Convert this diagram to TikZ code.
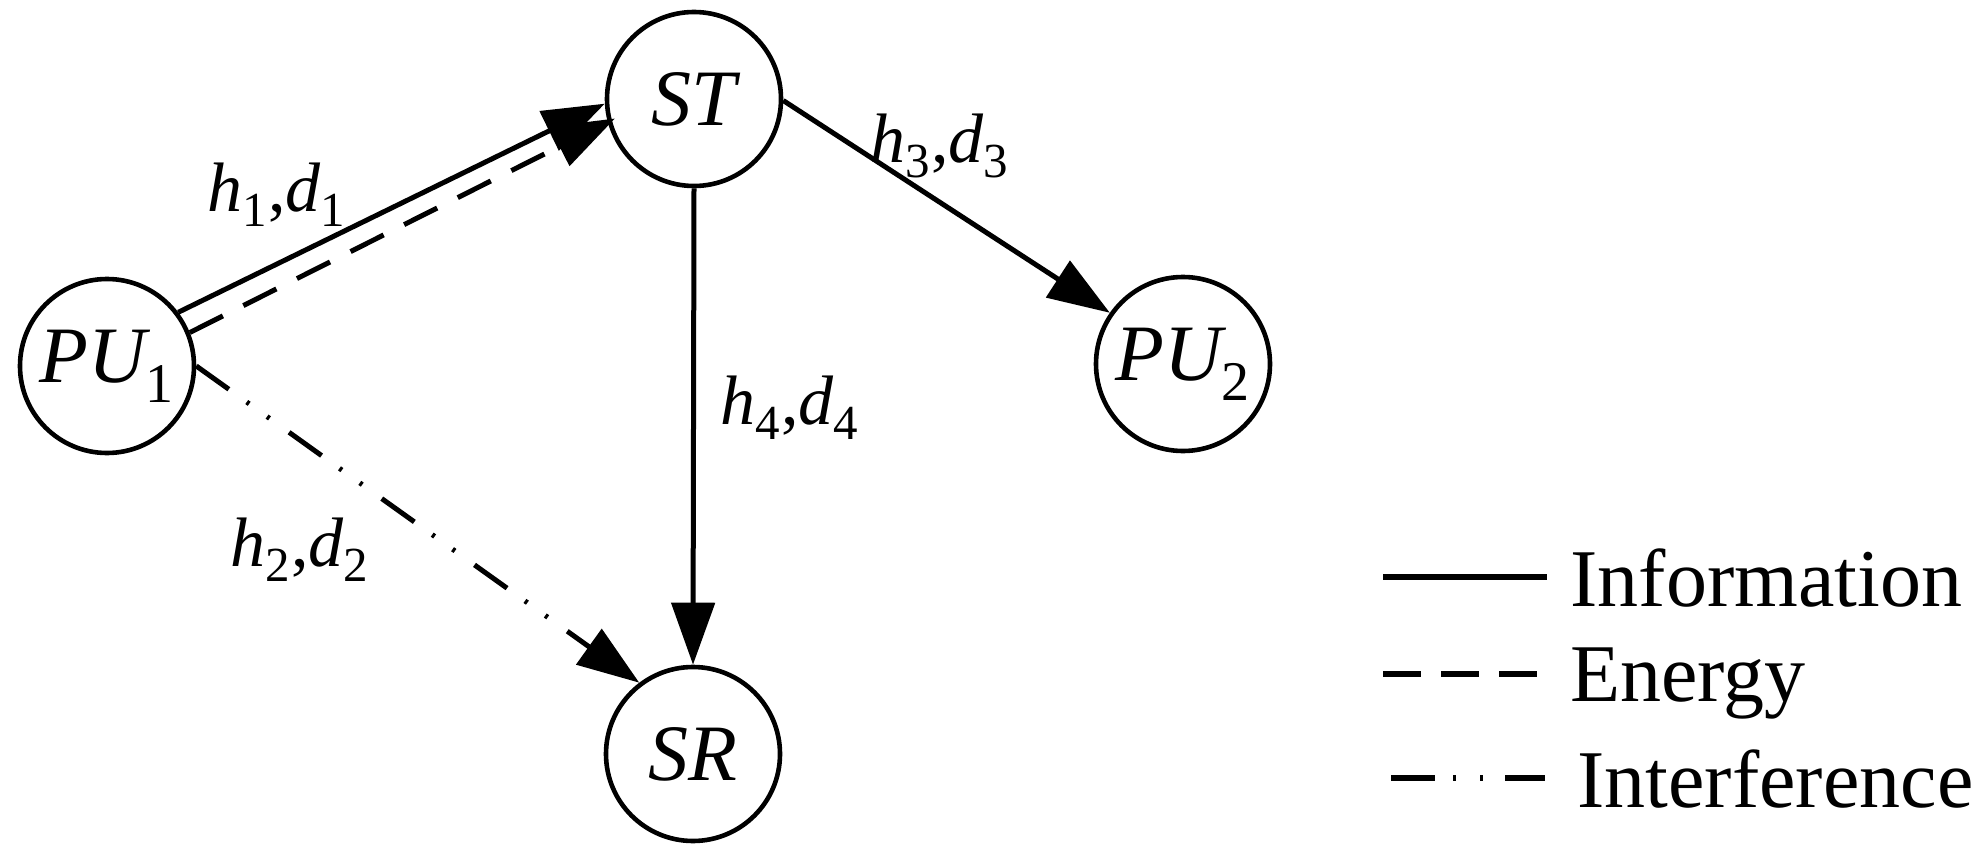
\documentclass[tikz,border=0pt]{standalone}
\usepackage{fontspec}
\setmainfont{Liberation Serif}
\usetikzlibrary{arrows.meta}
\begin{document}
\begin{tikzpicture}[x=0.5pt,y=-0.5pt,
  station/.style={circle,draw,line width=2.3pt,minimum size=87pt,inner sep=0pt,
    font=\fontsize{40}{48}\selectfont\itshape},
  lab/.style={inner sep=0pt,font=\fontsize{35}{42}\selectfont},
  legtext/.style={anchor=base west,inner sep=0pt,font=\fontsize{41}{49}\selectfont},
  link/.style={line width=2.5pt,-{Triangle[length=31pt,width=21.5pt]}},
  energy/.style={dash pattern=on 18.5pt off 11.5pt},
  interf/.style={dash pattern=on 20pt off 11pt on 1.5pt off 11pt on 1.5pt off 12pt},
  leginterf/.style={dash pattern=on 22pt off 9pt on 1.5pt off 12pt on 1.5pt off 11pt on 30pt off 1pt},
]
\useasboundingbox (0,0) rectangle (1988,856);
% stations
\node[station] (PU1) at (107,366) {PU\textsubscript{\upshape 1}};
\node[station] (ST)  at (694,99)  {ST};
\node[station] (PU2) at (1183,364) {PU\textsubscript{\upshape 2}};
\node[station] (SR)  at (693,754) {SR};
% links
\draw[link] (PU1.37.6) -- (ST.183);
\draw[link,energy,shorten >=-4pt] (PU1.22.5) -- (ST.195.3);
\draw[link,interf] (PU1.0) -- (SR.127);
\draw[link] (ST.-1) -- (PU2.145);
\draw[link] (ST.south) -- (SR.north);
% labels
\node[lab] (l1) at (277,195) {\textit{h}\textsubscript{1},\textit{d}\textsubscript{1}};
\node[lab] (l2) at (300,550) {\textit{h}\textsubscript{2},\textit{d}\textsubscript{2}};
\node[lab] (l3) at (940,146) {\textit{h}\textsubscript{3},\textit{d}\textsubscript{3}};
\node[lab] (l4) at (790,408) {\textit{h}\textsubscript{4},\textit{d}\textsubscript{4}};
% legend
\coordinate (i1) at (1383,577); \coordinate (i2) at (1547,577);
\coordinate (e1) at (1383,674); \coordinate (e2) at (1543,674);
\coordinate (f1) at (1391,778); \coordinate (f2) at (1545,778);
\draw[line width=2.6pt] (i1) -- (i2);
\draw[line width=2.6pt,dash pattern=on 19pt off 10pt] (e1) -- (e2);
\draw[line width=2.6pt,leginterf] (f1) -- (f2);
\node[legtext] (tI) at (1570,606) {Information};
\node[legtext] (tE) at (1570,701) {Energy};
\node[legtext] (tF) at (1577,807) {Interference};
\end{tikzpicture}
\end{document}
